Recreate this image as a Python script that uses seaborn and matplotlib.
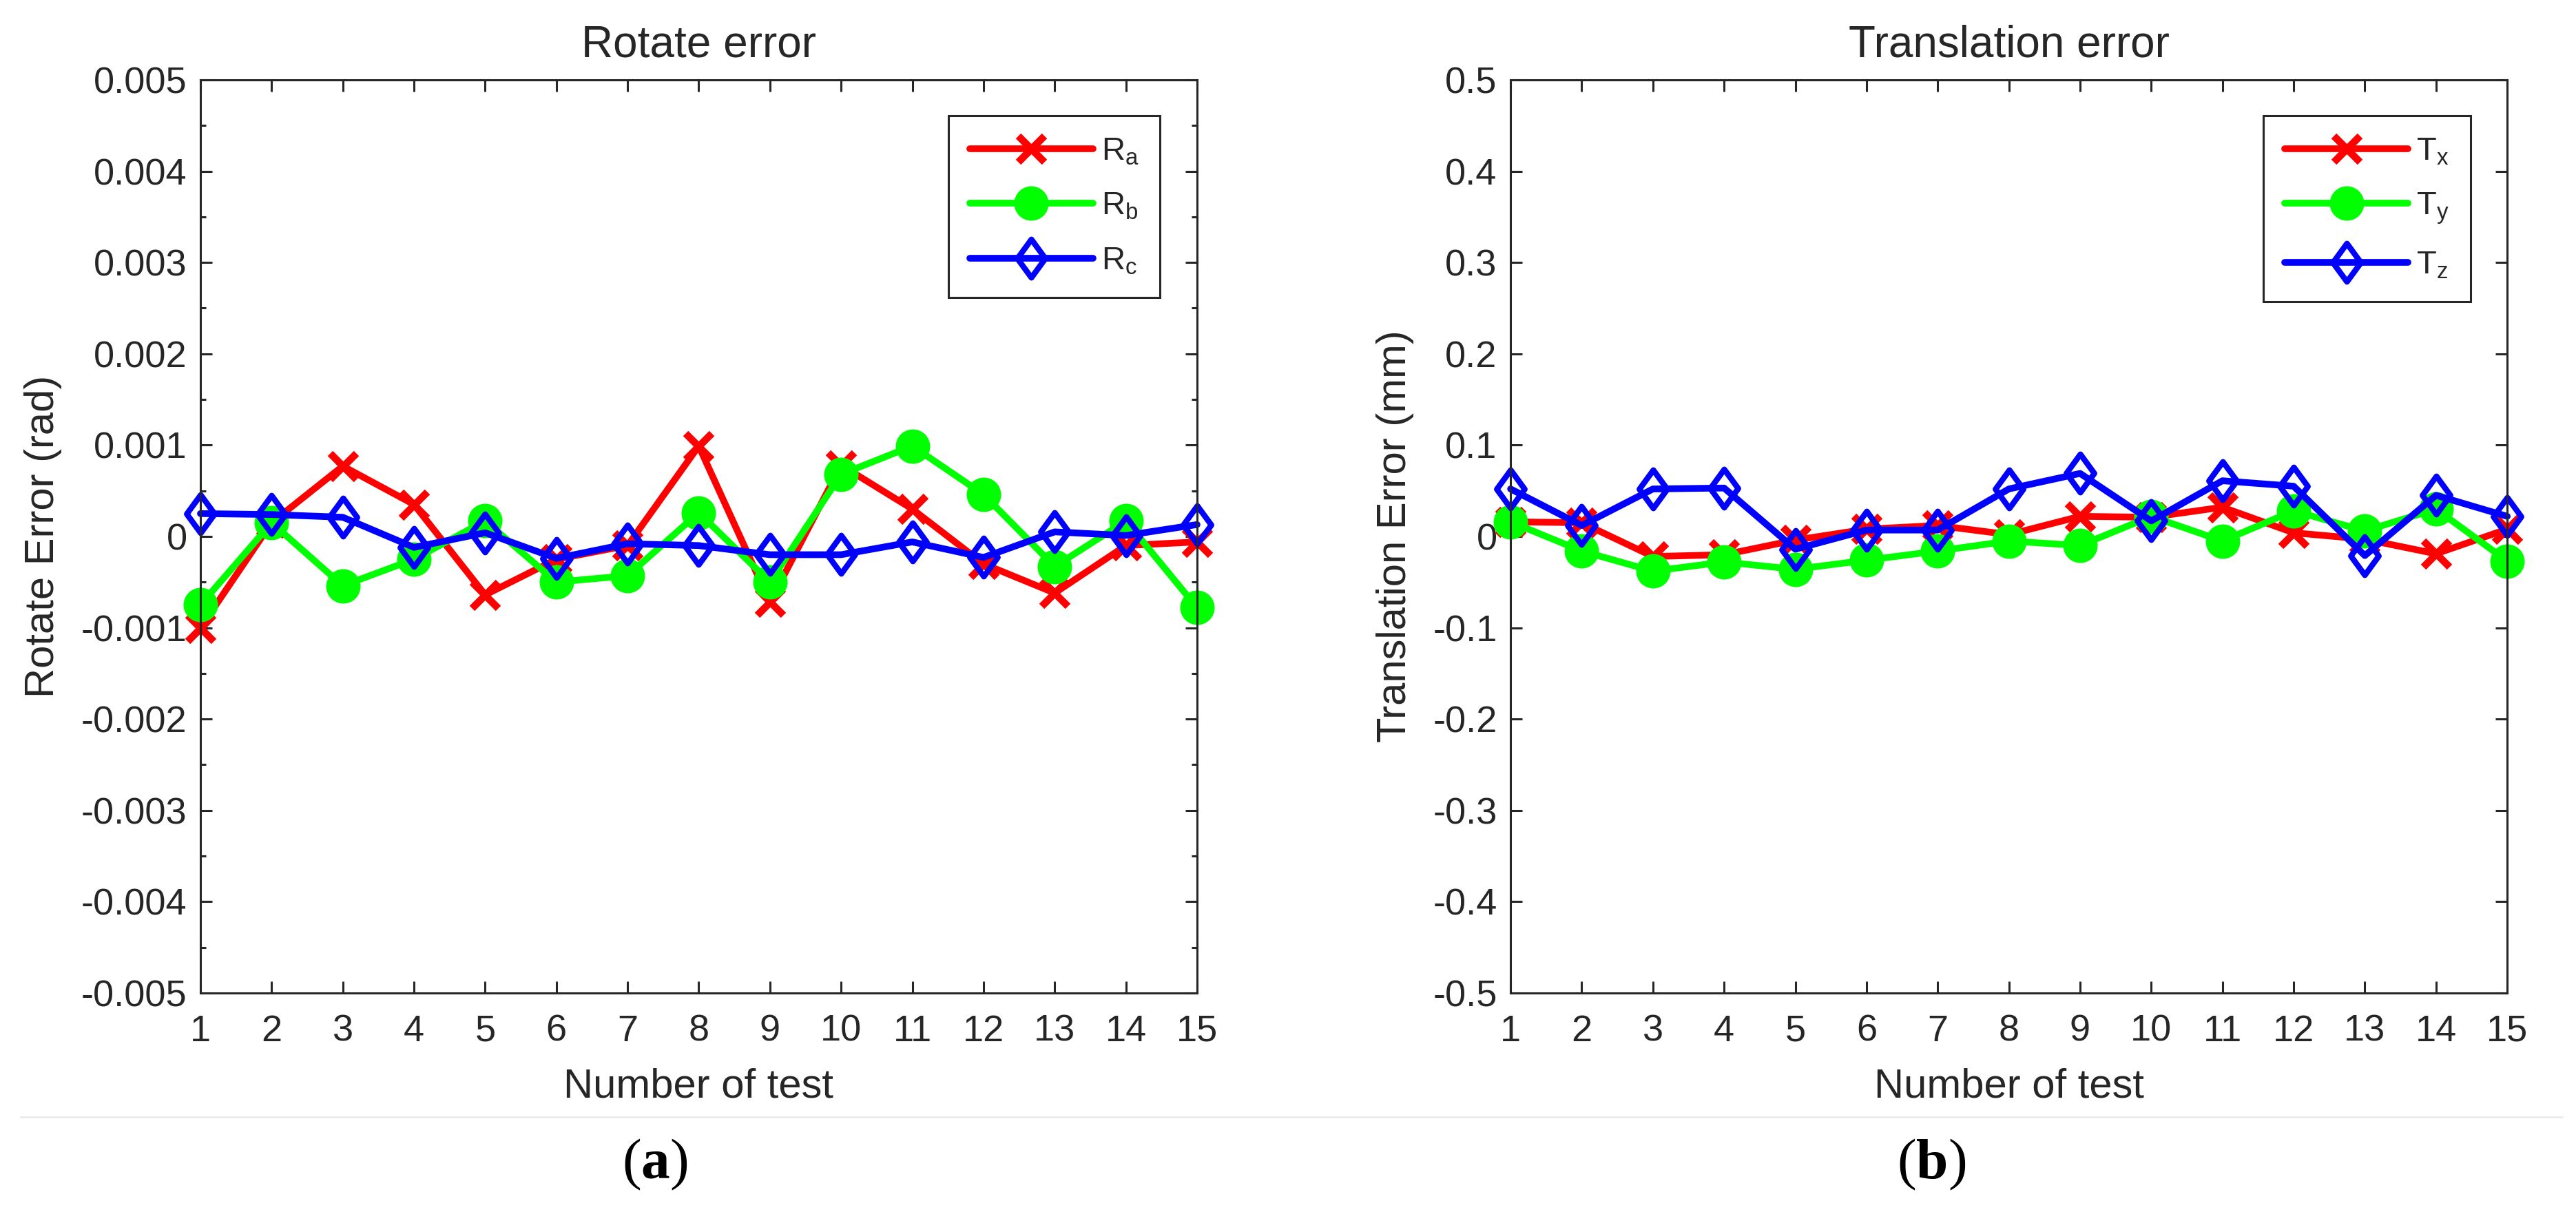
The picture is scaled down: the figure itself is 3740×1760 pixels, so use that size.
import matplotlib
matplotlib.use("Agg")
import matplotlib.pyplot as plt
import seaborn as sns
import numpy as np
from matplotlib.path import Path
from matplotlib.lines import Line2D
from matplotlib.ticker import MultipleLocator, FuncFormatter

# data
tests = list(range(1, 16))

rot_a = [-0.00100, 0.00015, 0.00077, 0.00035, -0.00064, -0.00025, -0.00010, 0.00099,
         -0.00072, 0.00078, 0.00030, -0.00030, -0.00062, -0.00010, -0.00006]
rot_b = [-0.00075, 0.00015, -0.00054, -0.00025, 0.00017, -0.00050, -0.00043, 0.00026,
         -0.00050, 0.00068, 0.00099, 0.00046, -0.00033, 0.00017, -0.00078]
rot_c = [0.00025, 0.00024, 0.00021, -0.00012, 0.00004, -0.00024, -0.00008, -0.00010,
         -0.00020, -0.00020, -0.00006, -0.00023, 0.00005, 0.00001, 0.00013]

tr_x = [0.016, 0.015, -0.022, -0.020, -0.004, 0.008, 0.012, 0.002,
        0.022, 0.021, 0.032, 0.004, -0.003, -0.019, 0.008]
tr_y = [0.016, -0.016, -0.038, -0.028, -0.036, -0.026, -0.016, -0.005,
        -0.010, 0.022, -0.005, 0.028, 0.006, 0.030, -0.027]
tr_z = [0.052, 0.012, 0.052, 0.053, -0.014, 0.007, 0.007, 0.052,
        0.069, 0.017, 0.061, 0.055, -0.021, 0.045, 0.022]

rot_labels = [r"R$_\mathregular{a}$", r"R$_\mathregular{b}$", r"R$_\mathregular{c}$"]
tr_labels = [r"T$_\mathregular{x}$", r"T$_\mathregular{y}$", r"T$_\mathregular{z}$"]

sns.set_theme(style="ticks")
plt.rcParams["font.family"] = ["Liberation Sans", "DejaVu Sans"]
plt.rcParams["axes.unicode_minus"] = False
plt.rcParams["mathtext.fontset"] = "custom"
plt.rcParams["mathtext.rm"] = "Liberation Serif"
plt.rcParams["mathtext.bf"] = "Liberation Serif:bold"

# tall-ish diamond like matlab's 'd'
diamond = Path([(0, 1), (0.73, 0), (0, -1), (-0.73, 0), (0, 1)],
               [Path.MOVETO, Path.LINETO, Path.LINETO, Path.LINETO, Path.CLOSEPOLY])

styles = [
    dict(color="#ff0000", marker="x", markersize=14, markeredgewidth=3.8,
         markeredgecolor="#ff0000"),
    dict(color="#00ff00", marker="o", markersize=17, markeredgewidth=1,
         markeredgecolor="#00ff00", markerfacecolor="#00ff00"),
    dict(color="#0000ff", marker=diamond, markersize=20, markeredgewidth=3,
         markeredgecolor="#0000ff", markerfacecolor="none"),
]

fig = plt.figure(figsize=(18.7, 8.8), dpi=200)
ax1 = fig.add_axes([0.0778, 0.1807, 0.3869, 0.7534])
ax2 = fig.add_axes([0.5864, 0.1807, 0.3869, 0.7534])


def draw(ax, series, labels, lim, major, minor, title, ylabel):
    for vals, lab, st in zip(series, labels, styles):
        sns.lineplot(x=tests, y=vals, ax=ax, label=lab, linewidth=3.5,
                     clip_on=False, **st)
    ax.set_xlim(1, 15)
    ax.set_ylim(-lim, lim)
    ax.xaxis.set_major_locator(MultipleLocator(1))
    ax.yaxis.set_major_locator(MultipleLocator(major))
    if minor:
        ax.yaxis.set_minor_locator(MultipleLocator(minor))
    ax.yaxis.set_major_formatter(FuncFormatter(lambda v, p: "%g" % round(v, 6)))
    ax.tick_params(which="both", direction="in", top=True, right=True,
                   colors="#262626", labelcolor="#262626", width=1.1)
    ax.tick_params(which="major", length=6, labelsize=19.5)
    ax.tick_params(which="minor", length=3)
    ax.tick_params(axis="x", pad=11)
    ax.tick_params(axis="y", pad=7)
    for s in ax.spines.values():
        s.set_linewidth(1.1)
        s.set_color("#262626")
    ax.set_title(title, fontsize=23, pad=12, color="#262626")
    ax.set_xlabel("Number of test", fontsize=21.5, labelpad=10, color="#262626")
    ax.set_ylabel(ylabel, fontsize=21.5, labelpad=10, color="#262626")
    leg = ax.legend(loc="upper right", bbox_to_anchor=(0.963, 0.961),
                    borderaxespad=0, fontsize=17, frameon=True, fancybox=False,
                    handlelength=3.8, handletextpad=0.25, labelspacing=0.75,
                    borderpad=0.65, edgecolor="#262626", framealpha=1)
    leg.get_frame().set_linewidth(1.1)


draw(ax1, [rot_a, rot_b, rot_c], rot_labels, 0.005, 0.001, 0.0005,
     "Rotate error", "Rotate Error (rad)")
draw(ax2, [tr_x, tr_y, tr_z], tr_labels, 0.5, 0.1, None,
     "Translation error", "Translation Error (mm)")

# caption separator and panel labels
fig.add_artist(Line2D([30 / 3740, 3720 / 3740], [0.0784, 0.0784],
                      transform=fig.transFigure, color="#ececec", linewidth=1.1))
fig.text(951 / 3740, 69 / 1760, r"($\mathbf{a}$)", family="Liberation Serif",
         fontsize=30, ha="center", va="center", color="black")
fig.text(2804 / 3740, 69 / 1760, r"($\mathbf{b}$)", family="Liberation Serif",
         fontsize=30, ha="center", va="center", color="black")

fig.savefig("out.png", dpi=200, facecolor="white")
